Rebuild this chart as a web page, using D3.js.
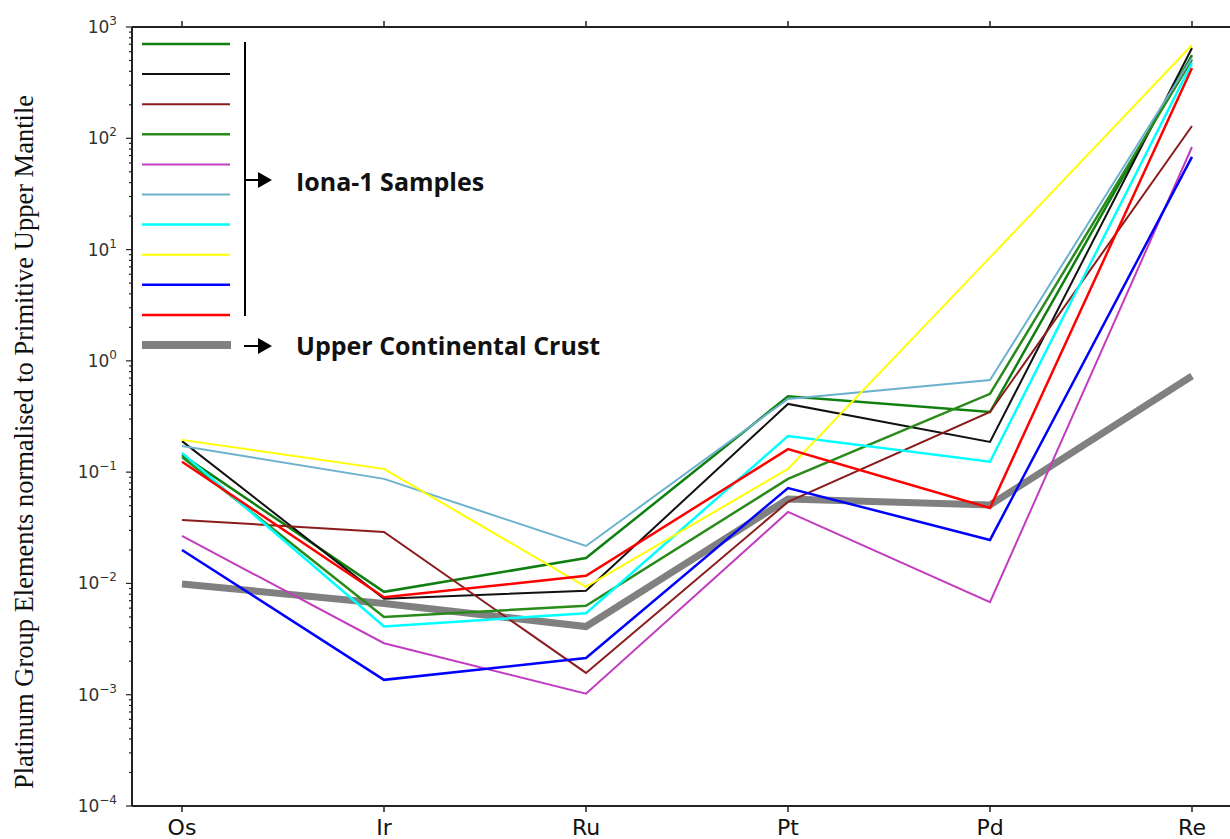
<!DOCTYPE html>
<html>
<head>
<meta charset="utf-8">
<script src="https://cdn.jsdelivr.net/npm/d3@7"></script>
<style>
    body { margin: 0; background: #fff; }
    svg { display: block; }
</style>
</head>
<body>
<div id="chart"></div>
<script>
// categories (x axis)
const elements = ["Os", "Ir", "Ru", "Pt", "Pd", "Re"];

// Iona-1 samples, normalised to primitive upper mantle
const sample1 = [0.143, 0.0084, 0.0169, 0.48, 0.347, 560];
const sample2 = [0.19, 0.0073, 0.0086, 0.41, 0.187, 648];
const sample3 = [0.0372, 0.029, 0.00157, 0.054, 0.347, 129];
const sample4 = [0.137, 0.005, 0.0063, 0.087, 0.505, 510];
const sample5 = [0.0267, 0.0029, 0.00102, 0.0439, 0.0068, 83.5];
const sample6 = [0.172, 0.087, 0.0217, 0.455, 0.673, 530];
const sample7 = [0.149, 0.0041, 0.0054, 0.211, 0.124, 475];
const sample8 = [0.195, 0.107, 0.0093, 0.107, 8.5, 689];
const sample9 = [0.020, 0.00136, 0.00214, 0.072, 0.0246, 68];
const sample10 = [0.124, 0.0075, 0.0117, 0.161, 0.0477, 428];

// Upper continental crust
const crust = [0.0099, 0.0066, 0.0041, 0.0574, 0.0507, 0.73];

const samples = [sample1, sample2, sample3, sample4, sample5, sample6, sample7, sample8, sample9, sample10];
const sampleColors = ["#0f800f", "#111111", "#8b1c1c", "#2a8a1a", "#c23cbf", "#6cb2cf", "#00ffff", "#ffff00", "#0000ff", "#ff0000"];
const sampleWidths = [2.5, 2, 2, 2.5, 2, 2, 2.5, 2, 2.5, 2.5];

// y tick exponents
const yExponents = [-4, -3, -2, -1, 0, 1, 2, 3];

const legendLabels = ["Iona-1 Samples", "Upper Continental Crust"];

const width = 1230;
const height = 839;
const plotLeft = 132, plotRight = 1242, plotTop = 27, plotBottom = 806;

const svg = d3.select("#chart")
    .append("svg")
    .attr("width", width)
    .attr("height", height);

// scales
const x = d3.scalePoint()
    .domain(elements)
    .range([182, 1192]);

const y = d3.scaleLog()
    .domain([1e-4, 1e3])
    .range([plotBottom, plotTop]);

// axis label
svg.append("text")
    .attr("transform", "translate(33, 442) rotate(-90)")
    .attr("text-anchor", "middle")
    .style("font-family", "'Liberation Serif', 'Times New Roman', serif")
    .style("font-size", "26.5px")
    .style("fill", "#111")
    .text("Platinum Group Elements normalised to Primitive Upper Mantile");

// lines
const line = d3.line()
    .x((d, i) => x(elements[i]))
    .y(d => y(d));

const plot = svg.append("g");

plot.append("path")
    .datum(crust)
    .attr("d", line)
    .attr("fill", "none")
    .attr("stroke", "#808080")
    .attr("stroke-width", 7);

plot.selectAll(".sample")
    .data(samples)
    .join("path")
    .attr("class", "sample")
    .attr("d", line)
    .attr("fill", "none")
    .attr("stroke", (d, i) => sampleColors[i])
    .attr("stroke-width", (d, i) => sampleWidths[i])
    .attr("stroke-linejoin", "miter");

// spines
const spine = svg.append("g")
    .attr("stroke", "#222")
    .attr("stroke-width", 2)
    .attr("fill", "none");
spine.append("line").attr("x1", plotLeft).attr("x2", plotLeft).attr("y1", plotTop).attr("y2", plotBottom);
spine.append("line").attr("x1", plotLeft).attr("x2", plotRight).attr("y1", plotTop).attr("y2", plotTop);
spine.append("line").attr("x1", plotLeft).attr("x2", plotRight).attr("y1", plotBottom).attr("y2", plotBottom);

// x ticks, top and bottom
const xTicks = svg.append("g").attr("stroke", "#222").attr("stroke-width", 1.5);
elements.forEach(e => {
    xTicks.append("line").attr("x1", x(e)).attr("x2", x(e)).attr("y1", plotBottom).attr("y2", plotBottom + 6);
    xTicks.append("line").attr("x1", x(e)).attr("x2", x(e)).attr("y1", plotTop).attr("y2", plotTop - 6);
});

svg.append("g")
    .selectAll("text")
    .data(elements)
    .join("text")
    .attr("x", d => x(d))
    .attr("y", 835)
    .attr("text-anchor", "middle")
    .style("font-family", "'DejaVu Sans', sans-serif")
    .style("font-size", "22px")
    .style("fill", "#111")
    .text(d => d);

// y ticks (major + minor)
const yTicks = svg.append("g").attr("stroke", "#222").attr("stroke-width", 1.2);
yExponents.forEach(k => {
    yTicks.append("line").attr("x1", plotLeft - 6).attr("x2", plotLeft).attr("y1", y(Math.pow(10, k))).attr("y2", y(Math.pow(10, k)));
    if (k < 3) {
        for (let m = 2; m < 10; m++) {
            const v = m * Math.pow(10, k);
            yTicks.append("line").attr("x1", plotLeft - 3).attr("x2", plotLeft).attr("y1", y(v)).attr("y2", y(v));
        }
    }
});

const yLabels = svg.append("g")
    .selectAll("text")
    .data(yExponents)
    .join("text")
    .attr("x", 117)
    .attr("y", d => y(Math.pow(10, d)) + 6)
    .attr("text-anchor", "end")
    .style("font-family", "'DejaVu Sans', sans-serif")
    .style("font-size", "17px")
    .style("fill", "#333");
yLabels.append("tspan").text("10");
yLabels.append("tspan")
    .attr("dy", -8)
    .style("font-size", "12px")
    .text(d => String(d).replace("-", "\u2212"));

// legend
const legend = svg.append("g");
samples.forEach((s, i) => {
    legend.append("line")
        .attr("x1", 142).attr("x2", 230)
        .attr("y1", 44 + i * 30.1).attr("y2", 44 + i * 30.1)
        .attr("stroke", sampleColors[i])
        .attr("stroke-width", sampleWidths[i]);
});
legend.append("line")
    .attr("x1", 142).attr("x2", 231)
    .attr("y1", 345).attr("y2", 345)
    .attr("stroke", "#808080")
    .attr("stroke-width", 8);

// bracket and arrows
legend.append("line")
    .attr("x1", 245).attr("x2", 245).attr("y1", 42).attr("y2", 316)
    .attr("stroke", "#000").attr("stroke-width", 2);

function arrow(x0, x1, yy) {
    legend.append("line")
        .attr("x1", x0).attr("x2", x1 - 12).attr("y1", yy).attr("y2", yy)
        .attr("stroke", "#000").attr("stroke-width", 2);
    legend.append("path")
        .attr("d", `M${x1 - 14},${yy - 8} L${x1},${yy} L${x1 - 14},${yy + 8} Z`)
        .attr("fill", "#000");
}
arrow(245, 272, 180);
arrow(244, 272, 346);

legend.selectAll(".lbl")
    .data(legendLabels)
    .join("text")
    .attr("class", "lbl")
    .attr("x", 296)
    .attr("y", (d, i) => i === 0 ? 191 : 355)
    .style("font-family", "'Open Sans', sans-serif")
    .style("font-weight", "bold")
    .style("font-size", "25px")
    .style("fill", "#111")
    .text(d => d);
</script>
</body>
</html>
